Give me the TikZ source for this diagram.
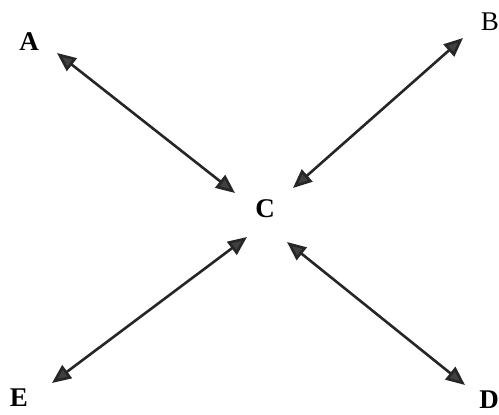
\documentclass[tikz,border=0pt]{standalone}
\usepackage{fontspec}
\setmainfont{Liberation Serif}
\usetikzlibrary{arrows.meta}
\begin{document}
\begin{tikzpicture}[x=1pt,y=-1pt,
  lbl/.style={font=\fontsize{27}{29}\selectfont\bfseries, inner sep=0pt},
  lblr/.style={font=\fontsize{27}{29}\selectfont, inner sep=0pt},
  dbl/.style={line width=2.6pt, draw={black!85},
    {Triangle[length=19pt,width=16pt,fill=black!75]}-{Triangle[length=19pt,width=16pt,fill=black!75]}}]
\useasboundingbox[fill=white] (0,0) rectangle (499,415);
\node[lbl] (A) at (29,42) {A};
\node[lblr, anchor=east] (B) at (499,22) {B};
\node[lbl] (C) at (265,209) {C};
\node[lbl] (E) at (19,398) {E};
\node[lbl, anchor=east] (D) at (499,400) {D};
\coordinate (a1) at (57,53);
\coordinate (a2) at (235,193);
\coordinate (b1) at (463,38);
\coordinate (b2) at (293,188);
\coordinate (e1) at (247,237);
\coordinate (e2) at (52,383);
\coordinate (d1) at (287,242);
\coordinate (d2) at (465,385);
\draw[dbl] (a1) -- (a2);
\draw[dbl] (b1) -- (b2);
\draw[dbl] (e1) -- (e2);
\draw[dbl] (d1) -- (d2);
\end{tikzpicture}
\end{document}
